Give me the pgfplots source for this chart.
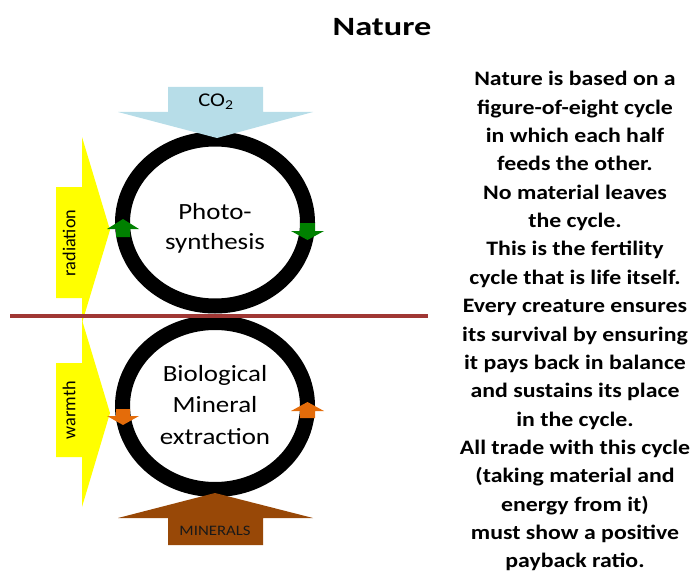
\documentclass[border=0pt]{standalone}
\usepackage{pgfplots}
\pgfplotsset{compat=1.18}
\usepackage{fontspec}
\setmainfont{Carlito}[FakeStretch=1.16]
\newfontfamily\titlefont{Carlito}[FakeStretch=1.3]
\newfontfamily\plainfont{Carlito}
\definecolor{co2blue}{RGB}{183,221,232}
\definecolor{minbrown}{RGB}{152,72,7}
\definecolor{orng}{RGB}{228,108,10}
\definecolor{grn}{RGB}{0,128,0}
\definecolor{redline}{RGB}{160,55,52}
\definecolor{yel}{RGB}{255,255,0}
\begin{document}
\begin{tikzpicture}
\begin{axis}[
  scale only axis, width=692bp, height=579bp,
  xmin=0, xmax=692, ymin=0, ymax=579, y dir=reverse,
  axis lines=none, clip=true,
]
% rings
\draw[line width=15bp, black] (axis cs:215,222.5) ellipse [x radius=92.5bp, y radius=83.5bp];
\draw[line width=15bp, black] (axis cs:215,406) ellipse [x radius=92.5bp, y radius=83.5bp];
% CO2 arrow
\addplot[fill=co2blue, draw=none] coordinates {(168,87) (263,87) (263,112) (313,112) (217,138) (118,112) (168,112)} -- cycle;
% MINERALS arrow
\addplot[fill=minbrown, draw=none] coordinates {(168,545) (263,545) (263,518) (313,518) (215,493) (118,518) (168,518)} -- cycle;
% radiation arrow
\addplot[fill=yel, draw=none] coordinates {(56,187) (82,187) (82,137) (110,230) (82,323) (82,298) (56,298)} -- cycle;
% warmth arrow
\addplot[fill=yel, draw=none] coordinates {(56,363) (82,363) (82,320) (110,413) (82,507) (82,457) (56,457)} -- cycle;
% green arrows
\addplot[fill=grn, draw=none] coordinates {(116,237) (130,237) (130,229) (139,229) (123,219) (107,229) (116,229)} -- cycle;
\addplot[fill=grn, draw=none] coordinates {(300,223) (315,223) (315,231) (324,231) (307.5,240) (291,231) (300,231)} -- cycle;
% orange arrows
\addplot[fill=orng, draw=none] coordinates {(116,409) (130,409) (130,416) (139,416) (123,425) (107,416) (116,416)} -- cycle;
\addplot[fill=orng, draw=none] coordinates {(300,418) (315,418) (315,411) (324,411) (307.5,402) (291,411) (300,411)} -- cycle;
% red line
\addplot[redline, line width=3.5bp] coordinates {(10,316) (428,316)};
% texts
\node[font=\titlefont\fontsize{26.5}{30}\selectfont\bfseries] at (axis cs:382,27) {Nature};
\node[font=\fontsize{19.5}{22}\selectfont] at (axis cs:216,102) {CO\textsubscript{2}};
\node[font=\fontsize{14.5}{16}\selectfont, text=black!90] at (axis cs:215,531) {MINERALS};
\node[font=\plainfont\fontsize{18.3}{20}\selectfont, rotate=90] at (axis cs:69,243) {radiation};
\node[font=\plainfont\fontsize{18.3}{20}\selectfont, rotate=90] at (axis cs:69,410) {warmth};
\node[font=\fontsize{23.3}{30}\selectfont, align=center] at (axis cs:215,228) {Photo-\\synthesis};
\node[font=\fontsize{23.3}{32}\selectfont, align=center] at (axis cs:215,405) {Biological\\Mineral\\extraction};
\node[font=\fontsize{20.6}{28.45}\selectfont\bfseries, align=center, anchor=north] at (axis cs:575,68) {Nature is based on a\\figure-of-eight cycle\\in which each half\\feeds the other.\\No material leaves\\the cycle.\\This is the fertility\\cycle that is life itself.\\Every creature ensures\\its survival by ensuring\\it pays back in balance\\and sustains its place\\in the cycle.\\All trade with this cycle\\(taking material and\\energy from it)\\must show a positive\\payback ratio.};
\end{axis}
\pgfresetboundingbox
\path (current axis.south west) rectangle (current axis.north east);
\end{tikzpicture}
\end{document}
